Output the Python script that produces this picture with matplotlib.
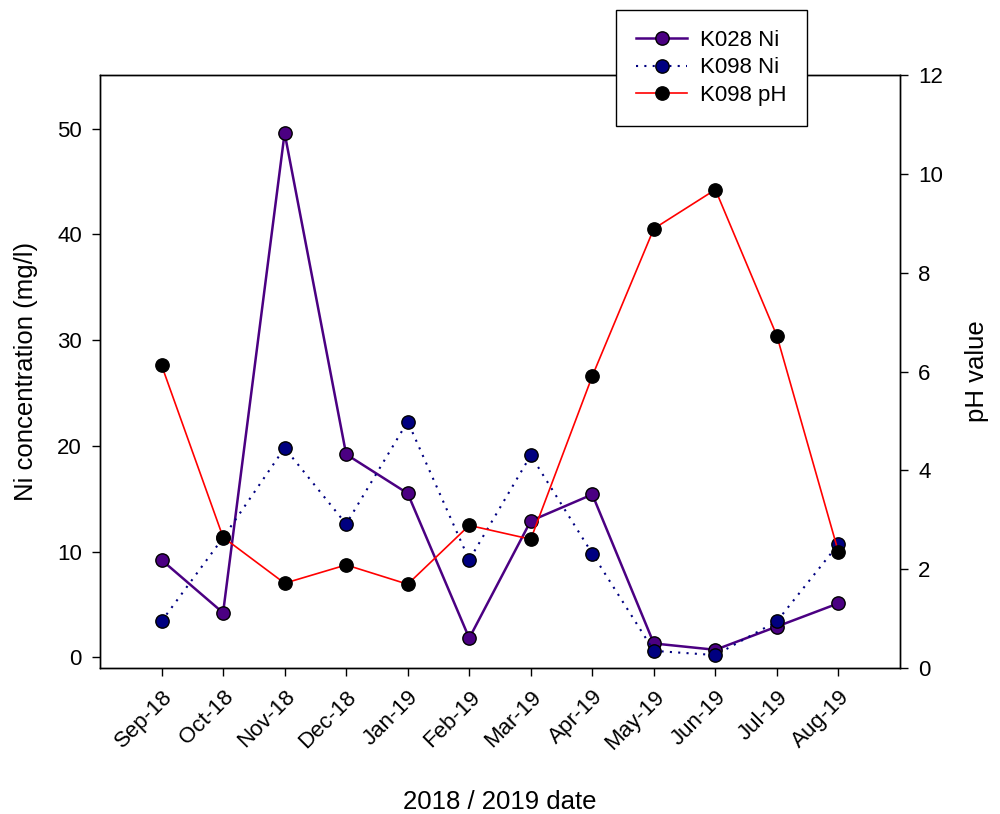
import matplotlib
matplotlib.use("Agg")
import matplotlib.pyplot as plt
from matplotlib.lines import Line2D

plt.rcParams['font.family'] = ['Liberation Sans', 'DejaVu Sans']

months = ["Sep-18", "Oct-18", "Nov-18", "Dec-18", "Jan-19", "Feb-19",
          "Mar-19", "Apr-19", "May-19", "Jun-19", "Jul-19", "Aug-19"]
k028_ni = [9.2, 4.2, 49.6, 19.2, 15.5, 1.8, 12.9, 15.4, 1.3, 0.7, 2.9, 5.1]
k098_ni = [3.4, 11.3, 19.8, 12.6, 22.3, 9.2, 19.1, 9.8, 0.6, 0.2, 3.4, 10.7]
k098_ph = [6.13, 2.65, 1.72, 2.09, 1.70, 2.89, 2.61, 5.91, 8.89, 9.68, 6.72, 2.35]

x = list(range(len(months)))

fig = plt.figure(figsize=(10, 8.14), dpi=100)
ax = fig.add_axes([0.1, 0.179, 0.8, 0.729])
ax2 = ax.twinx()

ms = 9.6
ax.plot(x, k028_ni, color='#4B0082', lw=1.8, marker='o', ms=ms,
        mfc='#4B0082', mec='black', mew=1, zorder=3)
ax.plot(x, k098_ni, color='#000080', lw=1.5, ls=(0, (1, 3)), marker='o', ms=ms,
        mfc='#000080', mec='black', mew=1, zorder=3)
ax2.plot(x, k098_ph, color='red', lw=1.2, marker='o', ms=ms,
         mfc='black', mec='black', mew=1, zorder=3)

ax.set_xlim(-1, 12)
ax.set_ylim(-1.05, 55.1)
ax2.set_ylim(0, 12)
ax.set_yticks([0, 10, 20, 30, 40, 50])
ax2.set_yticks([0, 2, 4, 6, 8, 10, 12])
ax.set_xticks(x)
ax.set_xticklabels(months, rotation=45, ha='right', rotation_mode='anchor')

for a in (ax, ax2):
    a.tick_params(direction='out', length=6, width=1, labelsize=16, pad=7)
    for s in a.spines.values():
        s.set_linewidth(1)

ax.set_ylabel("Ni concentration (mg/l)", fontsize=18.5, labelpad=14)
ax2.set_ylabel("pH value", fontsize=18.5, labelpad=16)
ax.set_xlabel("2018 / 2019 date", fontsize=18.5, labelpad=26)

handles = [
    Line2D([], [], color='#4B0082', lw=1.8, marker='o', ms=ms, mfc='#4B0082', mec='black'),
    Line2D([], [], color='#000080', lw=1.5, ls=(0, (1, 3)), marker='o', ms=ms, mfc='#000080', mec='black'),
    Line2D([], [], color='red', lw=1.2, marker='o', ms=ms, mfc='black', mec='black'),
]
leg = fig.legend(handles, ["K028 Ni", "K098 Ni", "K098 pH"],
                 loc='upper left', bbox_to_anchor=(0.616, 0.988),
                 borderaxespad=0,
                 fontsize=16, frameon=True, fancybox=False, edgecolor='black',
                 framealpha=1, borderpad=0.9, handlelength=2.3,
                 handletextpad=0.6, labelspacing=0.3)
leg.get_frame().set_linewidth(1)
leg.set_zorder(10)

fig.savefig("out.png", dpi=100)
